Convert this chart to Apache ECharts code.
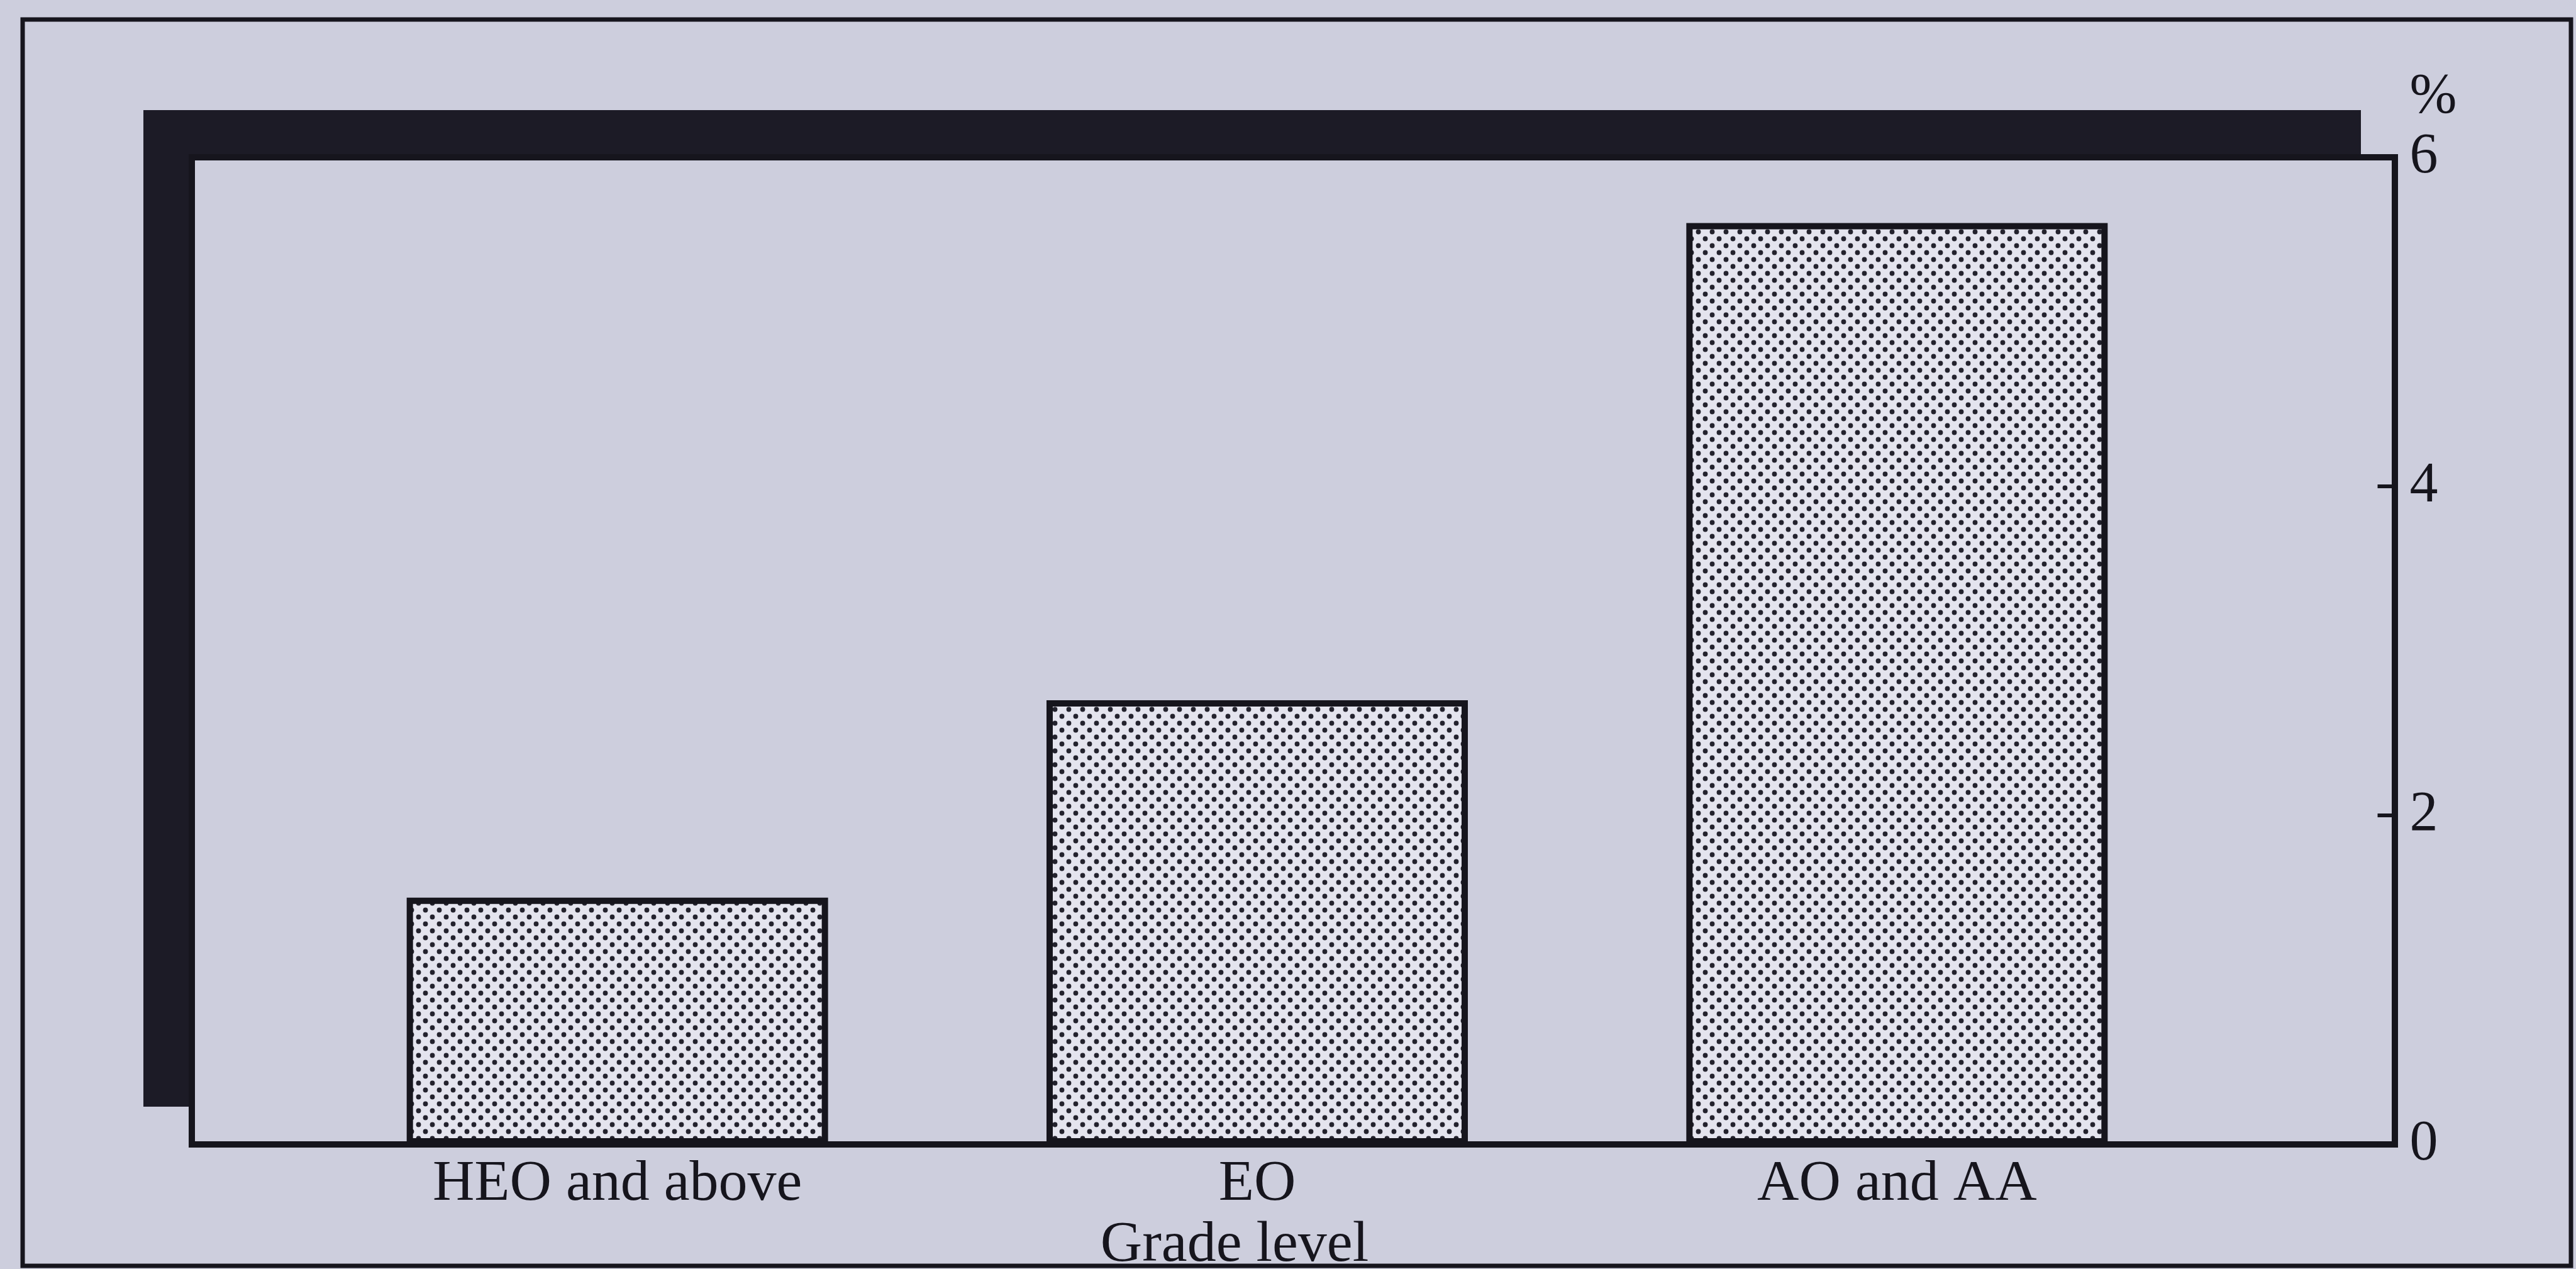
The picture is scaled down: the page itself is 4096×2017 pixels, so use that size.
<!DOCTYPE html>
<html>
<head>
<meta charset="utf-8">
<title>Grade level</title>
<style>
  html, body { margin: 0; padding: 0; background: #cdcedd; }
  #chart { width: 4096px; height: 2017px; }
</style>
<script src="https://cdn.jsdelivr.net/npm/echarts@6/dist/echarts.min.js"></script>
</head>
<body>
<div id="chart"></div>
<script>
// Share (%) by grade level
const categories = ['HEO and above', 'EO', 'AO and AA'];
const shareValues = [1.5, 2.7, 5.6];
const yTickValues = [0, 2, 4, 6];
const xAxisTitle = 'Grade level';
const yAxisUnit = '%';

const PAPER = '#cdcedd';
const INK = '#16151d';
const SHADOW = '#1c1b26';
const FONT = '"Liberation Serif", "Times New Roman", Times, serif';

// Halftone dot fill for the bars
function makeDotPattern() {
  const size = 22;
  const c = document.createElement('canvas');
  c.width = size; c.height = size;
  const g = c.getContext('2d');
  g.fillStyle = '#e4e4ee';
  g.fillRect(0, 0, size, size);
  g.fillStyle = '#23222d';
  [[5.5, 5.5], [16.5, 16.5]].forEach(function (p) {
    g.beginPath();
    g.arc(p[0], p[1], 3.9, 0, Math.PI * 2);
    g.fill();
  });
  return c;
}

const chart = echarts.init(document.getElementById('chart'), null, { renderer: 'canvas' });

const hiddenAxis = function (i) { return { type: 'value', gridIndex: i, show: false }; };

const option = {
  backgroundColor: PAPER,
  animation: false,
  grid: [
    // page frame
    { left: 36, top: 31, right: 8, bottom: 5, show: true, backgroundColor: 'transparent', borderColor: INK, borderWidth: 7, outerBoundsMode: 'none' },
    // solid offset shadow behind the plot box
    { left: 228, top: 175, right: 342, bottom: 258, show: true, backgroundColor: SHADOW, borderColor: SHADOW, borderWidth: 0, outerBoundsMode: 'none' },
    // plot box
    { left: 305, top: 250, right: 288, bottom: 198, show: true, backgroundColor: PAPER, borderColor: INK, borderWidth: 10, outerBoundsMode: 'none' },
    // bars
    { left: 473, top: 250, right: 571, bottom: 198, show: false, outerBoundsMode: 'none', containLabel: false }
  ],
  xAxis: [
    hiddenAxis(0), hiddenAxis(1), hiddenAxis(2),
    {
      type: 'category',
      gridIndex: 3,
      data: categories,
      axisLine: { show: false },
      axisTick: { show: false },
      axisLabel: { color: INK, fontFamily: FONT, fontSize: 92, margin: 18 },
      name: xAxisTitle,
      nameLocation: 'middle',
      nameGap: 107,
      nameTextStyle: { color: INK, fontFamily: FONT, fontSize: 92, padding: [0, 72, 0, 0] }
    }
  ],
  yAxis: [
    hiddenAxis(0), hiddenAxis(1), hiddenAxis(2),
    {
      type: 'value',
      gridIndex: 3,
      position: 'right',
      offset: 282.5,
      min: yTickValues[0],
      max: yTickValues[yTickValues.length - 1],
      interval: yTickValues[1] - yTickValues[0],
      splitLine: { show: false },
      axisLine: { show: false },
      axisTick: { show: true, inside: true, length: 27, lineStyle: { color: INK, width: 6 } },
      axisLabel: { color: INK, fontFamily: FONT, fontSize: 90, margin: 24 },
      name: yAxisUnit,
      nameLocation: 'end',
      nameGap: 50,
      nameTextStyle: { color: INK, fontFamily: FONT, fontSize: 90, align: 'left', padding: [0, 0, 0, 24] }
    }
  ],
  series: [
    {
      type: 'bar',
      xAxisIndex: 3,
      yAxisIndex: 3,
      data: shareValues,
      barWidth: 670,
      itemStyle: {
        color: { image: makeDotPattern(), repeat: 'repeat' },
        borderColor: INK,
        borderWidth: 10
      }
    }
  ]
};

chart.setOption(option);
</script>
</body>
</html>
